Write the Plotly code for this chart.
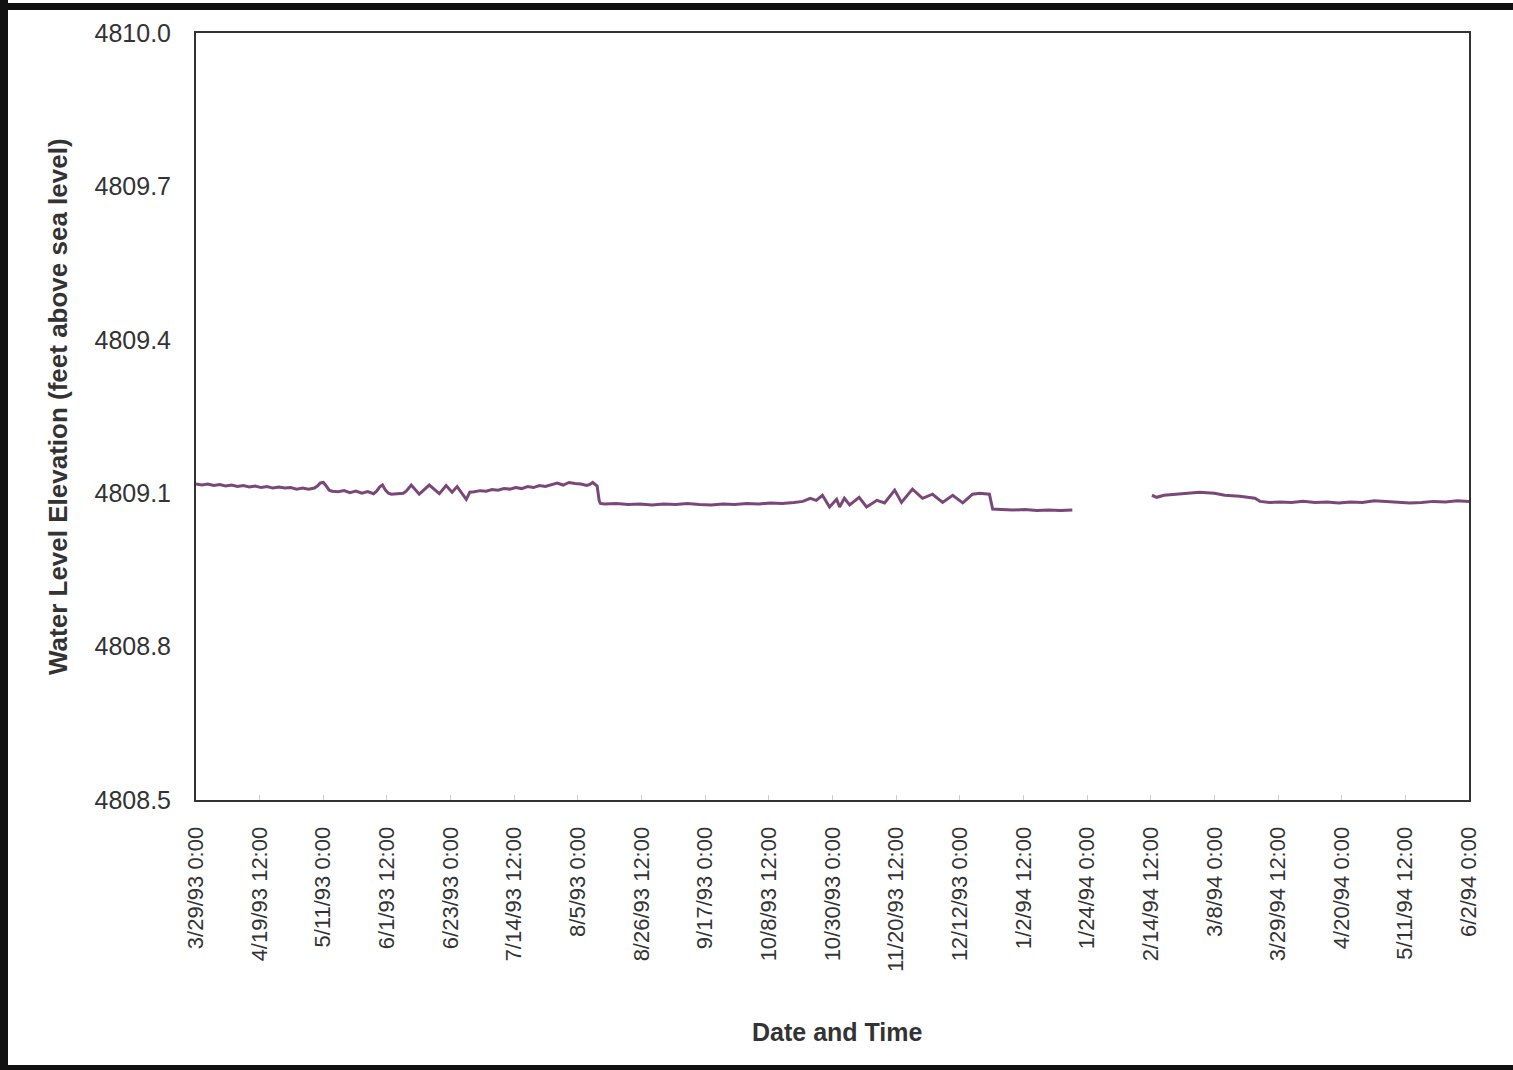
import pandas as pd
import plotly.graph_objects as go

# ---- data ----
start_date = "1993-03-29"
day_offsets = [
    0, 2, 4, 6, 8, 10, 12, 14, 16, 18, 20, 22, 24, 26, 28, 30, 32, 34, 36, 38, 40,
    41, 42, 43, 44, 45, 46, 48, 50, 52, 54, 56, 58, 60, 61, 62, 63, 64, 65, 66, 68,
    70, 71, 72.7, 75.4, 78.8, 82.2, 84.5, 86.5, 88.2, 91.3, 92.5,
    94, 96, 98, 100, 102, 104, 106, 108, 110, 112, 114, 116, 118, 120, 122, 124,
    126, 128, 130, 132, 133, 134, 135.5, 136.2, 136.6,
    138, 142, 146, 150, 154, 158, 162, 166, 170, 174, 178, 182, 186, 190, 194, 198,
    202, 205, 207.5, 209.5, 211.6, 214, 216.4, 217.4, 219, 220.8, 224, 226.5, 230,
    232.6, 236, 238.3, 242, 245.4, 248.8, 252.2, 255.6, 259, 262.3, 264.7, 268,
    269.1, 272, 276, 280, 284, 288, 292, 296,
    300,
    322.9, 324.5, 327, 332, 339, 344, 347.5, 352.6, 357.7, 359.4, 362.7,
    366, 370, 374, 378, 382, 386, 390, 394, 398, 402, 406, 410, 414, 418, 422, 426, 430,
]
elevation = [
    4809.118, 4809.116, 4809.118, 4809.115, 4809.117, 4809.114, 4809.116, 4809.113,
    4809.115, 4809.112, 4809.114, 4809.111, 4809.113, 4809.110, 4809.112, 4809.110,
    4809.111, 4809.108, 4809.110, 4809.108, 4809.110,
    4809.114, 4809.120, 4809.121, 4809.114, 4809.106, 4809.104, 4809.103, 4809.105,
    4809.101, 4809.104, 4809.100, 4809.103, 4809.099, 4809.104, 4809.112, 4809.116,
    4809.106, 4809.100, 4809.098, 4809.099,
    4809.100, 4809.104, 4809.116, 4809.098, 4809.116, 4809.099, 4809.115, 4809.102,
    4809.113, 4809.088, 4809.102,
    4809.103, 4809.105, 4809.104, 4809.107, 4809.106, 4809.109, 4809.108, 4809.111,
    4809.109, 4809.113, 4809.111, 4809.115, 4809.113, 4809.117, 4809.120, 4809.116,
    4809.121, 4809.119, 4809.118, 4809.115, 4809.117, 4809.121, 4809.114, 4809.085,
    4809.080,
    4809.079, 4809.080, 4809.078, 4809.079, 4809.077, 4809.079, 4809.078, 4809.080,
    4809.078, 4809.077, 4809.079, 4809.078, 4809.080, 4809.079, 4809.081, 4809.080,
    4809.082, 4809.084, 4809.090, 4809.086, 4809.096, 4809.073, 4809.088, 4809.073,
    4809.090, 4809.077, 4809.092, 4809.073, 4809.086, 4809.081, 4809.106, 4809.082,
    4809.108, 4809.090, 4809.098, 4809.082, 4809.096, 4809.081, 4809.098, 4809.100,
    4809.098,
    4809.069, 4809.068, 4809.067, 4809.068, 4809.066, 4809.067, 4809.066, 4809.067,
    None,
    4809.096, 4809.092, 4809.096, 4809.098, 4809.102, 4809.100, 4809.096, 4809.094,
    4809.090, 4809.084, 4809.082,
    4809.083, 4809.082, 4809.084, 4809.082, 4809.083, 4809.081, 4809.083, 4809.082,
    4809.085, 4809.084, 4809.083, 4809.081, 4809.082, 4809.084, 4809.083, 4809.085,
    4809.084,
]
x_tick_dates = [
    "1993-03-29 00:00", "1993-04-19 12:00", "1993-05-11 00:00", "1993-06-01 12:00",
    "1993-06-23 00:00", "1993-07-14 12:00", "1993-08-05 00:00", "1993-08-26 12:00",
    "1993-09-17 00:00", "1993-10-08 12:00", "1993-10-30 00:00", "1993-11-20 12:00",
    "1993-12-12 00:00", "1994-01-02 12:00", "1994-01-24 00:00", "1994-02-14 12:00",
    "1994-03-08 00:00", "1994-03-29 12:00", "1994-04-20 00:00", "1994-05-11 12:00",
    "1994-06-02 00:00",
]
x_tick_labels = [
    "3/29/93 0:00", "4/19/93 12:00", "5/11/93 0:00", "6/1/93 12:00", "6/23/93 0:00",
    "7/14/93 12:00", "8/5/93 0:00", "8/26/93 12:00", "9/17/93 0:00", "10/8/93 12:00",
    "10/30/93 0:00", "11/20/93 12:00", "12/12/93 0:00", "1/2/94 12:00", "1/24/94 0:00",
    "2/14/94 12:00", "3/8/94 0:00", "3/29/94 12:00", "4/20/94 0:00", "5/11/94 12:00",
    "6/2/94 0:00",
]
y_tick_values = [4808.5, 4808.8, 4809.1, 4809.4, 4809.7, 4810.0]
y_tick_labels = ["4808.5", "4808.8", "4809.1", "4809.4", "4809.7", "4810.0"]

# ---- figure ----
dates = pd.to_datetime(start_date) + pd.to_timedelta(day_offsets, unit="D")

W, H = 1513, 1070
L, R, T, B = 196, 44, 33, 270
pw, ph = W - L - R, H - T - B

fig = go.Figure()
fig.add_trace(go.Scatter(
    x=dates, y=elevation, mode="lines",
    line=dict(color="#7a4878", width=3),
    connectgaps=False, showlegend=False,
))

axis_font = dict(family="Liberation Sans, Arial, sans-serif", color="#333333")

fig.update_layout(
    width=W, height=H,
    margin=dict(l=L, r=R, t=T, b=B, autoexpand=False),
    paper_bgcolor="white", plot_bgcolor="white",
    xaxis=dict(
        range=[pd.Timestamp(x_tick_dates[0]), pd.Timestamp(x_tick_dates[-1])],
        tickmode="array", tickvals=pd.to_datetime(x_tick_dates), ticktext=x_tick_labels,
        tickangle=-90, tickfont=dict(size=22, **axis_font),
        showgrid=False, zeroline=False,
        showline=True, linecolor="#333333", linewidth=2, mirror=True,
        ticks="inside", ticklen=5, tickcolor="#cccccc",
        ticklabelstandoff=16,
    ),
    yaxis=dict(
        range=[4808.5, 4810.0],
        tickmode="array", tickvals=y_tick_values, ticktext=y_tick_labels,
        tickfont=dict(size=25, **axis_font),
        showgrid=False, zeroline=False,
        showline=True, linecolor="#333333", linewidth=2, mirror=True,
        ticks="", ticklabelstandoff=18,
    ),
    annotations=[
        dict(text="<b>Date and Time</b>", xref="paper", yref="paper",
             x=(837 - L) / pw, y=-(1032 - (T + ph)) / ph,
             showarrow=False, xanchor="center", yanchor="middle",
             font=dict(size=25, **axis_font)),
        dict(text="<b>Water Level Elevation (feet above sea level)</b>",
             xref="paper", yref="paper",
             x=(58 - L) / pw, y=1 - (407 - T) / ph, textangle=-90,
             showarrow=False, xanchor="center", yanchor="middle",
             font=dict(size=26, **axis_font)),
    ],
    shapes=[
        # outer scan frame (top, left, bottom)
        dict(type="rect", xref="paper", yref="paper",
             x0=-L / pw, x1=(W - L) / pw, y0=1 + (T - 3) / ph, y1=1 + (T - 10) / ph,
             fillcolor="#111111", line=dict(width=0), layer="above"),
        dict(type="rect", xref="paper", yref="paper",
             x0=-L / pw, x1=-(L - 8) / pw, y0=-B / ph, y1=1 + T / ph,
             fillcolor="#111111", line=dict(width=0), layer="above"),
        dict(type="rect", xref="paper", yref="paper",
             x0=-L / pw, x1=(W - L) / pw, y0=-B / ph, y1=-(B - 5) / ph,
             fillcolor="#111111", line=dict(width=0), layer="above"),
    ],
)

fig.write_html("out.html")
